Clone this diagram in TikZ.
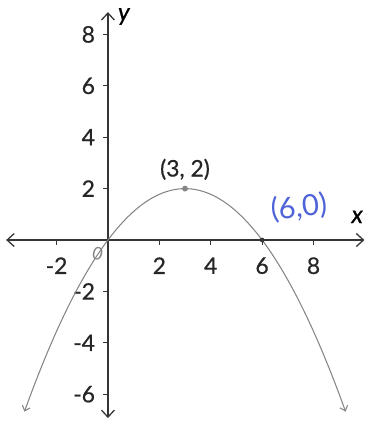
\documentclass[tikz,border=0pt]{standalone}
\usepackage{fontspec}
\setmainfont{Lato}[FakeBold=0.6]
\newfontfamily\penfont{Lato}
\usetikzlibrary{arrows.meta}
\definecolor{axisgray}{HTML}{353535}
\definecolor{curvegray}{HTML}{858585}
\definecolor{penblue}{HTML}{4F63D8}

\begin{document}
\begin{tikzpicture}[
    x=0.771cm, y=0.771cm,
    axis/.style={draw=axisgray, line width=1.1pt, {Straight Barb[length=6pt,width=11pt]}-{Straight Barb[length=6pt,width=11pt]}},
    curve/.style={draw=curvegray, line width=0.9pt, {Straight Barb[length=4pt,width=7pt]}-{Straight Barb[length=4pt,width=7pt]}},
    tick/.style={draw=axisgray, line width=0.8pt},
    ticklbl/.style={font=\fontsize{19.5}{22}\selectfont, text=black!85, inner sep=1pt}
]
\useasboundingbox (-4.2,-7.16) rectangle (10.19,9.34);

% Axes
\coordinate (xmin) at (-3.96,0);
\coordinate (xmax) at (9.98,0);
\coordinate (ymin) at (0,-6.93);
\coordinate (ymax) at (0,8.87);
\draw[axis] (xmin) -- (xmax);
\draw[axis] (ymin) -- (ymax);
\node[font=\fontsize{21}{24}\selectfont\itshape] (xlbl) at (9.7,0.9) {x};
\node[font=\fontsize{21}{24}\selectfont\itshape] (ylbl) at (0.62,8.7) {y};

% Ticks
\foreach \x [count=\i] in {-2,2,4,6,8} {
    \draw[tick] (\x,0) -- (\x,-0.18);
    \node[ticklbl] (xt\i) at (\x,-1.0) {\x};
}
\foreach \y [count=\i] in {-6,-4,-2,2,4,6,8} {
    \draw[tick] (0,\y) -- (-0.18,\y);
    \node[ticklbl, anchor=east] (yt\i) at (-0.45,\y) {\y};
}
\node[font=\penfont\fontsize{15}{17}\selectfont, text=curvegray, rotate=-15] (orig) at (-0.4,-0.52) {0};

% Parabola
\draw[curve] plot[domain=-3.25:9.25, samples=80, smooth] (\x, {-2/9*(\x-3)^2+2});

% Points
\node[circle, fill=curvegray, inner sep=0pt, minimum size=5pt] (vertex) at (3,2) {};
\node[circle, fill=axisgray, inner sep=0pt, minimum size=4pt] (root) at (6,0) {};
\node[font=\fontsize{19.5}{22}\selectfont, text=black!85] (vlbl) at (3,2.75) {(3, 2)};
\node[font=\penfont\fontsize{25}{28}\selectfont, text=penblue, rotate=6] (rlbl) at (7.43,1.25) {(6,0)};

\end{tikzpicture}
\end{document}
